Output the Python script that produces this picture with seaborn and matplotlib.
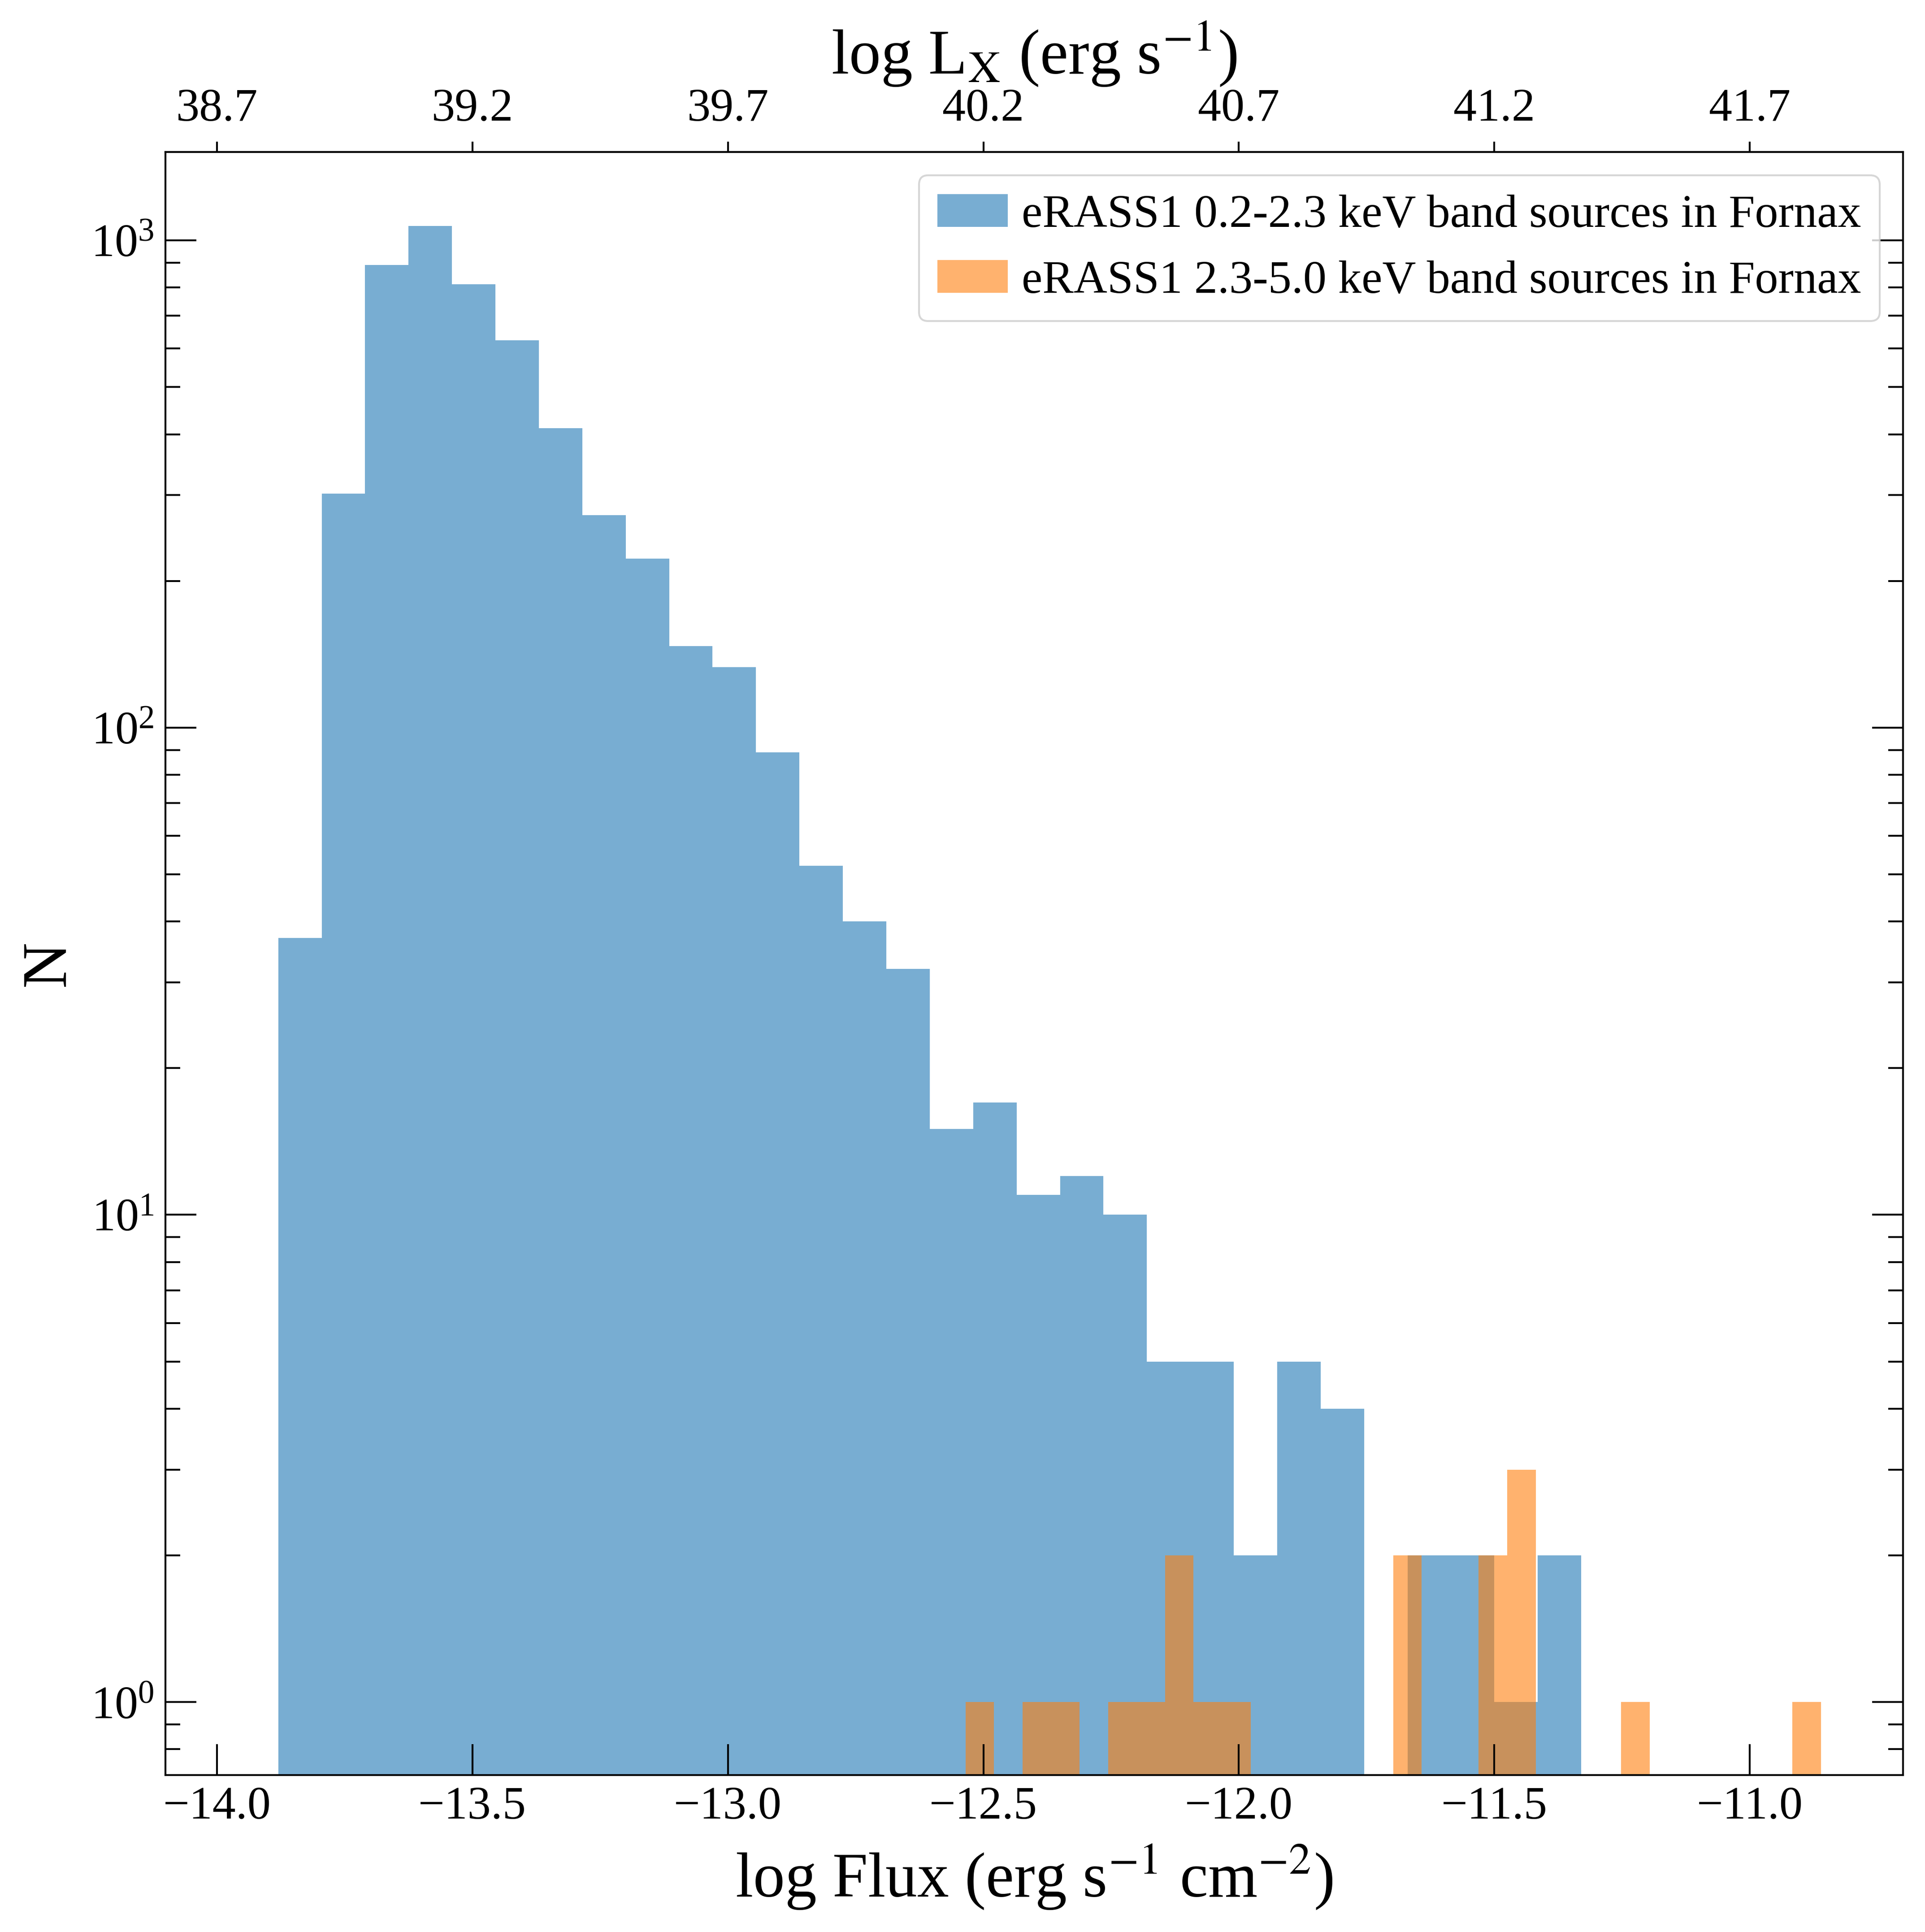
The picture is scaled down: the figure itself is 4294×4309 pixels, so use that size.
import numpy as np
import pandas as pd
import matplotlib
matplotlib.use("Agg")
import matplotlib.pyplot as plt
from matplotlib.ticker import FormatStrFormatter, NullLocator
import seaborn as sns

# Histogram of eRASS1 sources in Fornax, binned in log flux (erg s^-1 cm^-2)
soft_range = (-13.880, -11.330)
soft_counts = [37, 302, 891, 1071, 812, 623, 412, 273, 222, 147,
               133, 89, 52, 40, 32, 15, 17, 11, 12, 10,
               5, 5, 2, 5, 4, 0, 2, 2, 1, 2]
hard_range = (-12.535, -10.861)
hard_counts = [1, 0, 1, 1, 0, 1, 1, 2, 1, 1,
               0, 0, 0, 0, 0, 2, 0, 0, 2, 3,
               0, 0, 0, 1, 0, 0, 0, 0, 0, 1]
soft_label = "eRASS1 0.2-2.3 keV band sources in Fornax"
hard_label = "eRASS1 2.3-5.0 keV band sources in Fornax"

# top axis: log Lx = log flux + offset (distance of Fornax)
lx_offset = 52.7
lx_ticks = [38.7, 39.2, 39.7, 40.2, 40.7, 41.2, 41.7]

plt.rcParams['font.family'] = ['Liberation Serif', 'DejaVu Serif']
plt.rcParams['mathtext.fontset'] = 'stix'
plt.rcParams['axes.linewidth'] = 1.0


def binned_table(rng, counts):
    # bin edges + one weighted sample per bin, so seaborn rebuilds the same histogram
    edges = np.linspace(rng[0], rng[1], len(counts) + 1)
    df = pd.DataFrame({'flux': 0.5 * (edges[:-1] + edges[1:]),
                       'n': np.asarray(counts, dtype=float)})
    return edges.tolist(), df


fig = plt.figure(figsize=(4294 / 300, 4309 / 300), dpi=300)
ax = fig.add_axes([0.0859, 0.0813, 0.9027, 0.8400])

soft_edges, soft_df = binned_table(soft_range, soft_counts)
hard_edges, hard_df = binned_table(hard_range, hard_counts)

sns.histplot(data=soft_df, x='flux', weights='n', bins=soft_edges, ax=ax,
             color='#1f77b4', alpha=0.6, linewidth=0, edgecolor='none',
             label=soft_label)
sns.histplot(data=hard_df, x='flux', weights='n', bins=hard_edges, ax=ax,
             color='#ff7f0e', alpha=0.6, linewidth=0, edgecolor='none',
             label=hard_label)

ax.set_yscale('log')
ax.set_xlim(-14.101, -10.700)
ax.set_ylim(0.7087, 1518)
ax.xaxis.set_minor_locator(NullLocator())

ax.tick_params(which='both', direction='in', top=False, right=True,
               colors='black', width=1.0)
ax.tick_params(which='major', length=16.5, labelsize=25, pad=6)
ax.tick_params(which='minor', length=8)

ax.set_xlabel(r'log Flux (erg s$^{-1}$ cm$^{-2}$)', fontsize=34, labelpad=8)
ax.set_ylabel('N', fontsize=34, labelpad=7)

sec = ax.secondary_xaxis('top', functions=(lambda x: x + lx_offset,
                                           lambda x: x - lx_offset))
sec.set_xticks(lx_ticks)
sec.xaxis.set_major_formatter(FormatStrFormatter('%.1f'))
sec.tick_params(direction='out', length=5.5, width=1.0, labelsize=25, pad=6)
sec.set_xlabel(r'log L$_{\rm X}$ (erg s$^{-1}$)', fontsize=34, labelpad=8)

ax.legend(loc='upper right', fontsize=25, handlelength=1.5,
          handletextpad=0.3, framealpha=0.8, edgecolor='0.8')

fig.savefig('out.png', dpi=300)
